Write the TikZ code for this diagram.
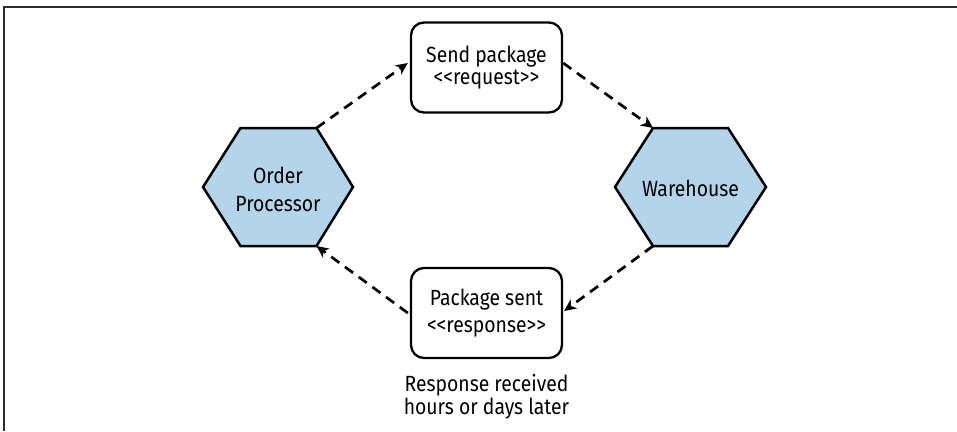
\documentclass[tikz,border=0pt]{standalone}
\usepackage{fontspec}
\setmainfont{Fira Sans}[FakeStretch=0.88]
\usetikzlibrary{arrows.meta,calc}
\definecolor{hexblue}{RGB}{179,212,234}
\definecolor{framegray}{RGB}{45,45,45}
\tikzset{
  hexlbl/.style={font=\fontsize{22}{28}\selectfont, align=center, inner sep=0pt},
  msgbox/.style={draw, line width=2.3pt, rounded corners=13pt, minimum width=151pt,
    minimum height=90pt, inner sep=0pt, align=center},
  caption/.style={font=\fontsize{22}{23}\selectfont, align=center, inner sep=0pt},
  hexline/.style={draw, line width=2.5pt, fill=hexblue, line join=miter},
  flow/.style={dash pattern=on 10pt off 7pt, line width=2.7pt,
    -{Stealth[length=12pt,width=11pt,inset=3.5pt]}}
}
\begin{document}
\begin{tikzpicture}[x=1pt,y=-1pt]
\useasboundingbox (0,0) rectangle (957,431);
% frame
\draw[framegray, line width=1.5pt] (4,431) -- (4,7) -- (957,7);

% Order Processor hexagon
\coordinate (opc) at (278,187);
\draw[hexline] ($(opc)+(-75,0)$) coordinate (op-l)
  -- ($(opc)+(-37.5,-59)$) coordinate (op-tl)
  -- ($(opc)+(38.5,-59)$) coordinate (op-tr)
  -- ($(opc)+(75,0)$) coordinate (op-r)
  -- ($(opc)+(38.5,59)$) coordinate (op-br)
  -- ($(opc)+(-37.5,59)$) coordinate (op-bl)
  -- cycle;
\node[hexlbl] (op) at ($(opc)+(0,2)$) {Order\\Processor};

% Warehouse hexagon
\coordinate (whc) at (690.5,187);
\draw[hexline] ($(whc)+(-75.5,0)$) coordinate (wh-l)
  -- ($(whc)+(-37.5,-59)$) coordinate (wh-tl)
  -- ($(whc)+(37.5,-59)$) coordinate (wh-tr)
  -- ($(whc)+(75.5,0)$) coordinate (wh-r)
  -- ($(whc)+(37.5,59)$) coordinate (wh-br)
  -- ($(whc)+(-37.5,59)$) coordinate (wh-bl)
  -- cycle;
\node[hexlbl] (wh) at ($(whc)+(0,1)$) {Warehouse};

% message boxes
\node[msgbox, font=\fontsize{22}{22}\selectfont] (req) at (486.5,67.5) {Send package\\<{}<request>{}>};
\node[msgbox, font=\fontsize{22}{27}\selectfont] (resp) at (486.5,313) {Package sent\\<{}<response>{}>};

% caption
\node[caption, anchor=north] (cap) at ($(resp.south)+(0,15)$) {Response received\\hours or days later};

% connectors
\draw[flow] (op-tr) -- ($(req.west)+(-2,-4.5)$);
\draw[flow] ($(req.east)+(0,-4.5)$) -- (wh-tl);
\draw[flow] (wh-bl) -- ($(resp.east)+(1,-2)$);
\draw[flow] ($(resp.west)+(-2,0)$) -- (op-br);
\end{tikzpicture}
\end{document}
